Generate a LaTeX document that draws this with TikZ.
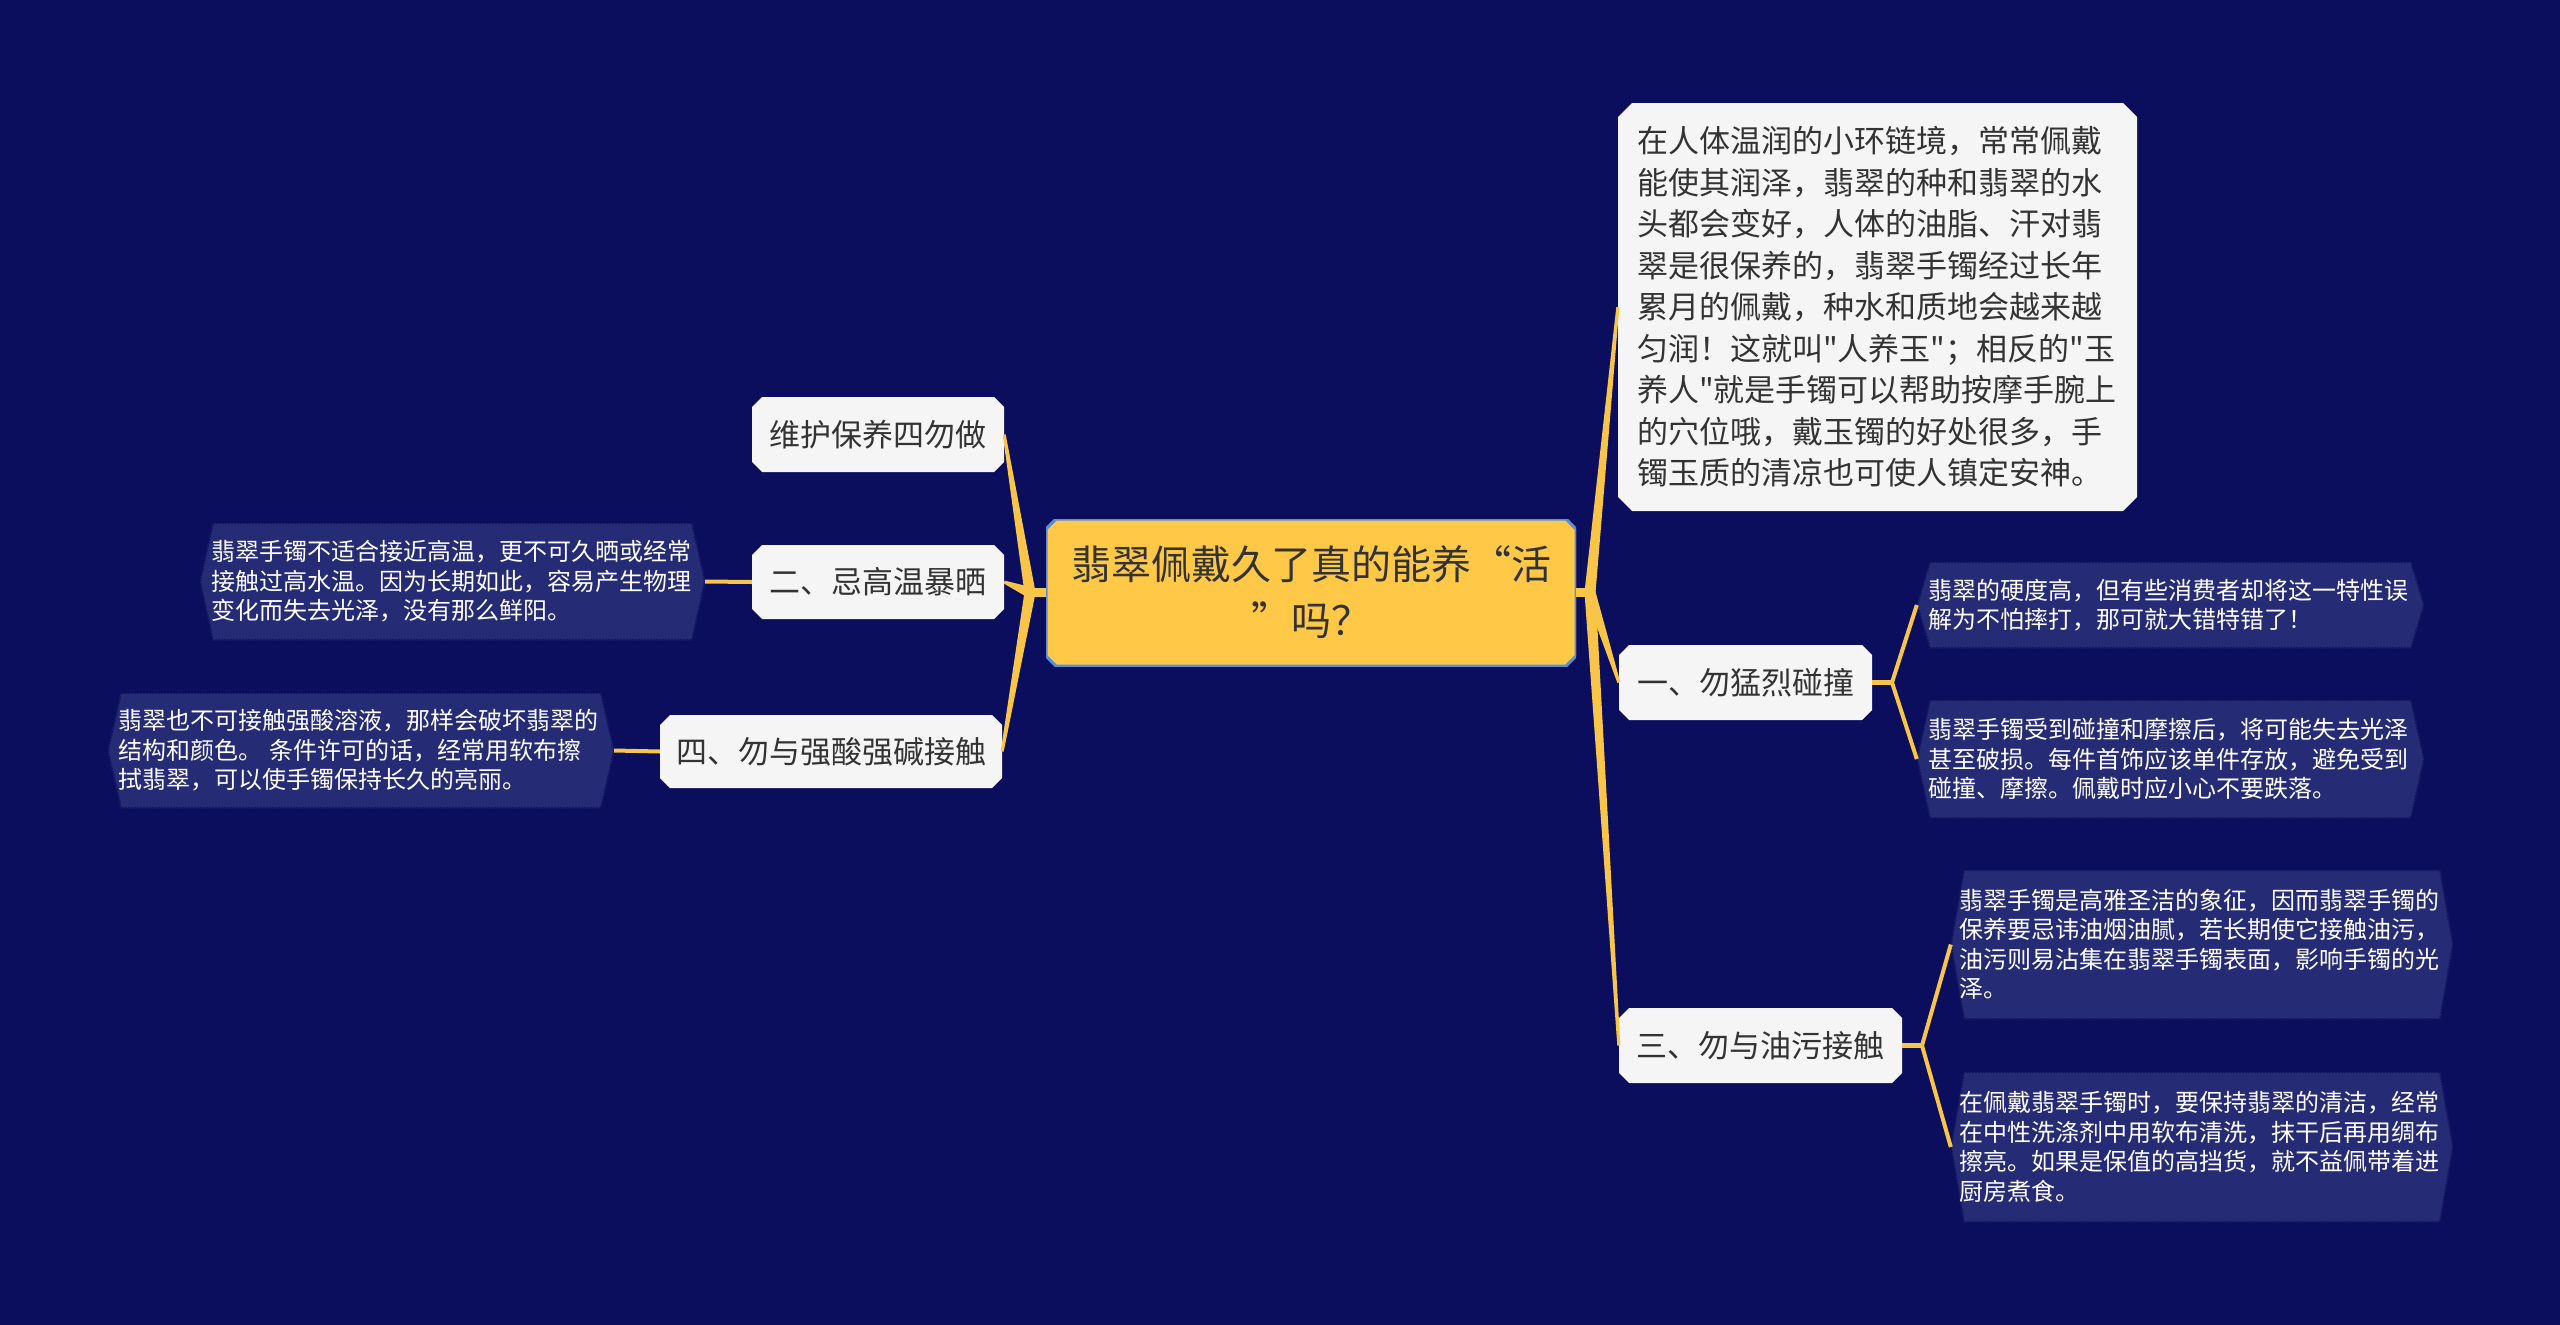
\documentclass[tikz,border=0pt]{standalone}
\usepackage{fontspec}
\newfontfamily\cjk{Noto Sans CJK SC}
\usetikzlibrary{calc}
\definecolor{bg}{HTML}{0B0E5C}
\definecolor{leaffill}{HTML}{252B74}
\definecolor{leafborder}{HTML}{121663}
\definecolor{conn}{HTML}{F8C549}
\definecolor{cfill}{HTML}{FFC847}
\definecolor{cborder}{HTML}{5A8FD8}
\definecolor{nfill}{HTML}{F5F5F5}
\definecolor{ntext}{HTML}{333333}
\newcommand\octpath[1]{([xshift=#1]path picture bounding box.north west) -- ([xshift=-#1]path picture bounding box.north east) -- ([yshift=-#1]path picture bounding box.north east) -- ([yshift=#1]path picture bounding box.south east) -- ([xshift=-#1]path picture bounding box.south east) -- ([xshift=#1]path picture bounding box.south west) -- ([yshift=#1]path picture bounding box.south west) -- ([yshift=-#1]path picture bounding box.north west) -- cycle}
\newcommand\hexpath[1]{(path picture bounding box.west) -- ([xshift=#1]path picture bounding box.north west) -- ([xshift=-#1]path picture bounding box.north east) -- (path picture bounding box.east) -- ([xshift=-#1]path picture bounding box.south east) -- ([xshift=#1]path picture bounding box.south west) -- cycle}
\tikzset{
  base/.style={rectangle, inner ysep=0pt, fill=bg},
  central/.style={base, text=ntext, align=center, inner xsep=0pt,
    font=\cjk\fontsize{40}{56}\selectfont,
    path picture={\fill[cfill] \octpath{10pt}; \draw[cborder, line width=3pt] \octpath{10pt};}},
  mid/.style={base, text=ntext, align=center, inner xsep=0pt,
    font=\cjk\fontsize{31}{38}\selectfont,
    path picture={\fill[nfill] \octpath{10pt};}},
  bigbox/.style={base, text=ntext, align=left,
    font=\cjk\fontsize{31}{41.5}\selectfont,
    path picture={\fill[nfill] \octpath{14pt};}},
  leaf/.style={base, text=white, align=left,
    font=\cjk\fontsize{24}{29.5}\selectfont,
    path picture={\fill[leaffill] \hexpath{13pt}; \draw[leafborder, line width=2pt, densely dotted] \hexpath{13pt};}},
  leafconn/.style={draw=conn, line width=4pt, line join=round},
  stub/.style={draw=conn, line width=9pt},
}
\begin{document}
\begin{tikzpicture}[x=1pt,y=-1pt]
\fill[bg] (0,0) rectangle (2560,1325);
\useasboundingbox (0,0) rectangle (2560,1325);

% central
\node[central, minimum width=530pt, minimum height=147pt] (c) at (1311,592.5) {翡翠佩戴久了真的能养“活\\”吗？};

% level-1 nodes
\node[mid, minimum width=252pt, minimum height=75pt] (n0) at (878,434.5) {维护保养四勿做};
\node[mid, minimum width=252pt, minimum height=74pt] (n2) at (878,582) {二、忌高温暴晒};
\node[mid, minimum width=342pt, minimum height=73pt] (n4) at (831,751.5) {四、勿与强酸强碱接触};
\node[bigbox, minimum width=519pt, minimum height=408pt, text width=481pt, inner xsep=19pt] (b) at (1877.5,307) {在人体温润的小环链境，常常佩戴\\能使其润泽，翡翠的种和翡翠的水\\头都会变好，人体的油脂、汗对翡\\翠是很保养的，翡翠手镯经过长年\\累月的佩戴，种水和质地会越来越\\匀润！这就叫"人养玉"；相反的"玉\\养人"就是手镯可以帮助按摩手腕上\\的穴位哦，戴玉镯的好处很多，手\\镯玉质的清凉也可使人镇定安神。};
\node[mid, minimum width=253pt, minimum height=75pt] (n1) at (1745.5,682.5) {一、勿猛烈碰撞};
\node[mid, minimum width=283pt, minimum height=75pt] (n3) at (1760.5,1045.5) {三、勿与油污接触};

% leaves
\node[leaf, minimum width=507pt, minimum height=86pt, text width=485pt, inner xsep=11pt] (l1a) at (2170.5,605) {翡翠的硬度高，但有些消费者却将这一特性误\\解为不怕摔打，那可就大错特错了！};
\node[leaf, minimum width=507pt, minimum height=118pt, text width=485pt, inner xsep=11pt] (l1b) at (2170.5,759) {翡翠手镯受到碰撞和摩擦后，将可能失去光泽\\甚至破损。每件首饰应该单件存放，避免受到\\碰撞、摩擦。佩戴时应小心不要跌落。};
\node[leaf, minimum width=502pt, minimum height=149pt, text width=486pt, inner xsep=8pt] (l3a) at (2202,944.5) {翡翠手镯是高雅圣洁的象征，因而翡翠手镯的\\保养要忌讳油烟油腻，若长期使它接触油污，\\油污则易沾集在翡翠手镯表面，影响手镯的光\\泽。};
\node[leaf, minimum width=502pt, minimum height=150pt, text width=486pt, inner xsep=8pt] (l3b) at (2202,1147) {在佩戴翡翠手镯时，要保持翡翠的清洁，经常\\在中性洗涤剂中用软布清洗，抹干后再用绸布\\擦亮。如果是保值的高挡货，就不益佩带着进\\厨房煮食。};
\node[leaf, minimum width=505pt, minimum height=117pt, text width=483pt, inner xsep=11pt] (l2) at (452.5,581.5) {翡翠手镯不适合接近高温，更不可久晒或经常\\接触过高水温。因为长期如此，容易产生物理\\变化而失去光泽，没有那么鲜阳。};
\node[leaf, minimum width=506pt, minimum height=115pt, text width=486pt, inner xsep=10pt] (l4) at (361,750.5) {翡翠也不可接触强酸溶液，那样会破坏翡翠的\\结构和颜色。 条件许可的话，经常用软布擦\\拭翡翠，可以使手镯保持长久的亮丽。};

% main connectors
\coordinate (jR) at (1590,592.5);
\coordinate (jL) at (1030,592.5);
\draw[stub] (c.east) -- (jR);
\draw[stub] (c.west) -- (jL);
\foreach \t in {b,n1,n3}{
  \fill[conn] ($(jR)!5.5pt!90:(\t.west)$) -- ($(\t.west)!1.5pt!-90:(jR)$) -- ($(\t.west)!1.5pt!90:(jR)$) -- ($(jR)!5.5pt!-90:(\t.west)$) -- cycle;
}
\foreach \t in {n0,n2,n4}{
  \fill[conn] ($(jL)!5.5pt!90:(\t.east)$) -- ($(\t.east)!1.5pt!-90:(jL)$) -- ($(\t.east)!1.5pt!90:(jL)$) -- ($(jL)!5.5pt!-90:(\t.east)$) -- cycle;
}

% leaf connectors
\coordinate (k1) at (1892,682.5);
\coordinate (k3) at (1922,1045.5);
\draw[leafconn, line width=5pt] (n1.east) -- (k1);
\draw[leafconn] (k1) -- (l1a.west);
\draw[leafconn] (k1) -- (l1b.west);
\draw[leafconn, line width=5pt] (n3.east) -- (k3);
\draw[leafconn] (k3) -- (l3a.west);
\draw[leafconn] (k3) -- (l3b.west);
\draw[leafconn] (l2.east) -- (n2.west);
\draw[leafconn] (l4.east) -- (n4.west);
\end{tikzpicture}
\end{document}
